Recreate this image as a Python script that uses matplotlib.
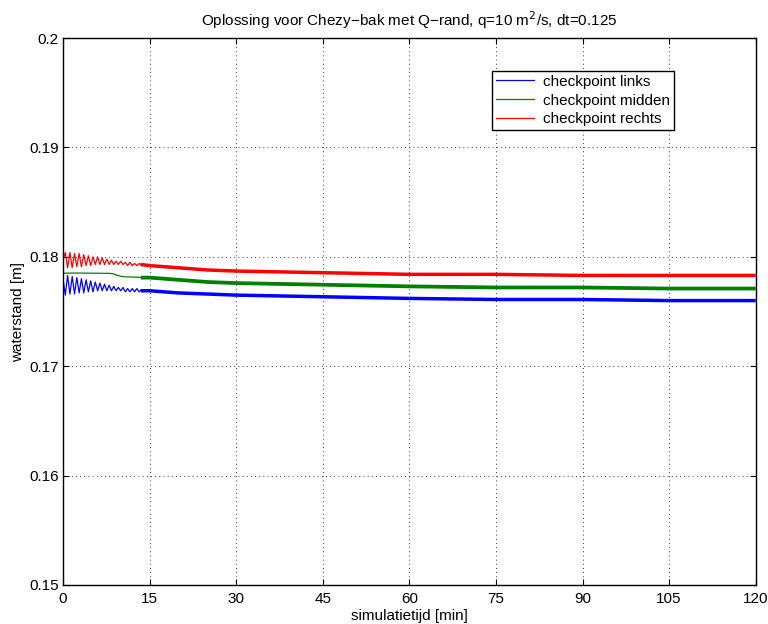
import numpy as np
import matplotlib
matplotlib.use("Agg")
import matplotlib.pyplot as plt

plt.rcParams['font.family'] = ['Liberation Sans', 'DejaVu Sans']

# early part: oscillating, sampled at every half period (~0.4 min)
t_early = [0.0, 0.40, 0.80, 1.20, 1.60, 2.00, 2.40, 2.80, 3.20, 3.60, 4.00, 4.40,
           4.80, 5.20, 5.60, 6.00, 6.40, 6.80, 7.20, 7.60, 8.00, 8.40, 8.80, 9.20,
           9.60, 10.00, 10.40, 10.80, 11.20, 11.60, 12.00, 12.40, 12.80, 13.20, 13.60, 14.00]
links_early = [0.1780, 0.1765, 0.1783, 0.1766, 0.1782, 0.1766, 0.1781, 0.1767, 0.1780, 0.1767,
               0.1779, 0.1768, 0.1778, 0.1768, 0.1777, 0.1769, 0.1776, 0.1769, 0.1775, 0.1769,
               0.1774, 0.1769, 0.1773, 0.1769, 0.1772, 0.1769, 0.1772, 0.1768, 0.1771, 0.1768,
               0.1771, 0.1768, 0.1771, 0.1768, 0.1770, 0.1769]
rechts_early = [0.1797, 0.1804, 0.1790, 0.1804, 0.1790, 0.1803, 0.1791, 0.1803, 0.1791, 0.1802,
                0.1792, 0.1801, 0.1792, 0.1800, 0.1793, 0.1800, 0.1793, 0.1799, 0.1793, 0.1798,
                0.1793, 0.1797, 0.1793, 0.1796, 0.1793, 0.1796, 0.1793, 0.1795, 0.1792, 0.1795,
                0.1792, 0.1794, 0.1792, 0.1794, 0.1792, 0.1793]
t_midden_early = [0.0, 2.0, 4.0, 6.0, 8.0, 8.6, 9.2, 9.8, 10.5, 12.0, 14.0]
midden_early = [0.17850, 0.17852, 0.17851, 0.17850, 0.17849, 0.17846, 0.17835, 0.17825, 0.17818, 0.17815, 0.17812]

# later part: dense oscillation band, mean level
t_late = [13.5, 15, 20, 25, 30, 40, 50, 60, 75, 90, 105, 120]
links_late = [0.1769, 0.1769, 0.1767, 0.1766, 0.1765, 0.1764, 0.1763, 0.1762, 0.1761, 0.1761, 0.1760, 0.1760]
midden_late = [0.1781, 0.1781, 0.1779, 0.1777, 0.1776, 0.1775, 0.1774, 0.1773, 0.1772, 0.1772, 0.1771, 0.1771]
rechts_late = [0.1793, 0.1792, 0.1790, 0.1788, 0.1787, 0.1786, 0.1785, 0.1784, 0.1784, 0.1783, 0.1783, 0.1783]

yticks = [0.15, 0.16, 0.17, 0.18, 0.19, 0.2]
ytick_labels = ['0.15', '0.16', '0.17', '0.18', '0.19', '0.2']
xticks = [0, 15, 30, 45, 60, 75, 90, 105, 120]

blue = '#0000ff'
green = '#008000'
red = '#ff0000'

fig = plt.figure(figsize=(7.68, 6.24), dpi=100)
ax = fig.add_axes([0.082, 0.0625, 0.902, 0.8765])

ax.plot(t_early, links_early, color=blue, lw=0.9, label='checkpoint links')
ax.plot(t_midden_early, midden_early, color=green, lw=0.9, label='checkpoint midden')
ax.plot(t_early, rechts_early, color=red, lw=0.9, label='checkpoint rechts')
ax.plot(t_late, links_late, color=blue, lw=2.5, solid_capstyle='butt')
ax.plot(t_late, midden_late, color=green, lw=2.7, solid_capstyle='butt')
ax.plot(t_late, rechts_late, color=red, lw=2.5, solid_capstyle='butt')

ax.set_xlim(0, 120)
ax.set_ylim(0.15, 0.2)
ax.set_xticks(xticks)
ax.set_yticks(yticks)
ax.set_yticklabels(ytick_labels)
ax.tick_params(direction='in', top=True, right=True, labelsize=11, length=4, pad=3)
ax.tick_params(axis='x', pad=5)
ax.grid(True, color='black', linestyle=(0, (1, 4)), linewidth=0.6)
for s in ax.spines.values():
    s.set_linewidth(1.0)

ax.set_title('Oplossing voor Chezy\u2212bak met Q\u2212rand, q=10 m$^2$/s, dt=0.125', fontsize=11, pad=9)
ax.set_xlabel('simulatietijd [min]', fontsize=11, labelpad=2)
ax.set_ylabel('waterstand [m]', fontsize=11, labelpad=3)

leg = ax.legend(loc='upper left', bbox_to_anchor=(0.619, 0.94), fancybox=False,
                edgecolor='black', framealpha=1, fontsize=11, handlelength=2.5,
                borderpad=0.25, labelspacing=0.32, borderaxespad=0, handletextpad=0.6)
leg.get_frame().set_linewidth(1.0)

plt.savefig('out.png', dpi=100)
